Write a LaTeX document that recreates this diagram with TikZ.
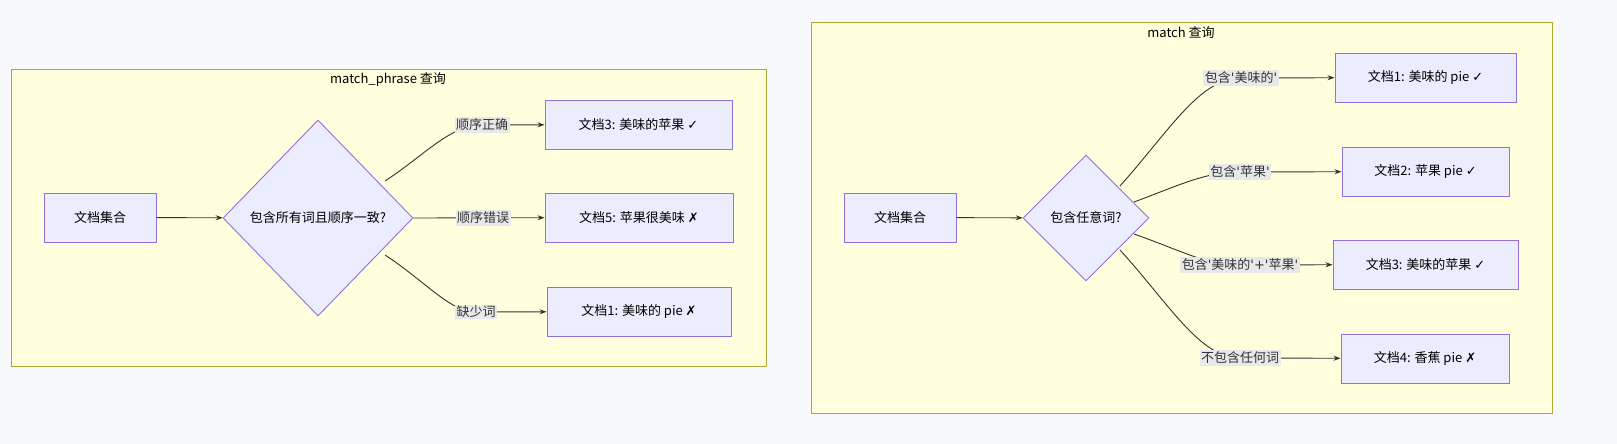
\documentclass[tikz,border=0pt]{standalone}
\usepackage{fontspec}
\setmainfont{Noto Sans CJK SC}
\newfontfamily\sym{DejaVu Sans}
\newcommand{\q}{{\sym\char"0027}}
\usetikzlibrary{shapes.geometric,arrows.meta}
\definecolor{bg}{HTML}{F8F9FB}
\definecolor{clf}{HTML}{FFFFDE}
\definecolor{cld}{HTML}{AAAA33}
\definecolor{ndf}{HTML}{ECECFF}
\definecolor{ndd}{HTML}{9370DB}
\definecolor{lbl}{HTML}{E8E8E8}
\definecolor{ed}{HTML}{333333}
\begin{document}
\begin{tikzpicture}[x=1pt,y=-1pt,
  font=\fontsize{13}{15}\selectfont,
  cl/.style={draw=cld,fill=clf,line width=0.9pt},
  box/.style={draw=ndd,fill=ndf,line width=0.9pt,minimum height=49pt,inner sep=0pt},
  dia/.style={draw=ndd,fill=ndf,line width=0.9pt,diamond,inner sep=0pt},
  lab/.style={fill=lbl,inner sep=1.5pt,text=ed},
  e/.style={draw=ed,line width=0.9pt,-{Stealth[length=7pt,width=5pt]}}]
\fill[bg] (0,0) rectangle (1617,444);
% left cluster
\draw[cl] (11,69) rectangle (766,366);
\node (t1) at (388,80) {match\_phrase 查询};
\node[box,minimum width=112pt] (a0) at (100,217.5) {文档集合};
\node[dia,minimum width=190pt,minimum height=196pt] (q1) at (318,218) {};
\node at (q1) {包含所有词且顺序一致?};
\node[box,minimum width=187pt] (a3) at (638.5,124.5) {文档3: 美味的苹果 {\sym ✓}};
\node[box,minimum width=188pt] (a5) at (639,217.5) {文档5: 苹果很美味 {\sym ✗}};
\node[box,minimum width=184pt] (a1) at (639,311.5) {文档1: 美味的 pie {\sym ✗}};
\coordinate (l1) at (482,125);
\coordinate (l2) at (483,218);
\coordinate (l3) at (476,312);
\draw[e] (a0) -- (q1);
\draw[e] (385,181) .. controls (425,155) and (450,125) .. (l1) -- (a3);
\draw[e] (q1.east) -- (a5);
\draw[e] (385,255) .. controls (425,281) and (450,312) .. (l3) -- (a1);
\node[lab] at (l1) {顺序正确};
\node[lab] at (l2) {顺序错误};
\node[lab] at (l3) {缺少词};
% right cluster
\draw[cl] (811,22) rectangle (1552,413);
\node (t2) at (1181,33) {match 查询};
\node[box,minimum width=112pt] (b0) at (900,217.5) {文档集合};
\node[dia,minimum width=126pt,minimum height=126pt] (q2) at (1086,218) {};
\node at (q2) {包含任意词?};
\node[box,minimum width=181pt] (b1) at (1425.5,77.5) {文档1: 美味的 pie {\sym ✓}};
\node[box,minimum width=167pt] (b2) at (1425.5,171.5) {文档2: 苹果 pie {\sym ✓}};
\node[box,minimum width=185pt] (b3) at (1425.5,264.5) {文档3: 美味的苹果 {\sym ✓}};
\node[box,minimum width=168pt] (b4) at (1425,358.5) {文档4: 香蕉 pie {\sym ✗}};
\coordinate (m1) at (1241,78);
\coordinate (m2) at (1240,172);
\coordinate (m3) at (1240,265);
\coordinate (m4) at (1240,358);
\draw[e] (b0) -- (q2);
\draw[e] (1120,186) .. controls (1170,130) and (1200,78) .. (m1) -- (b1);
\draw[e] (1134,202) .. controls (1180,185) and (1205,172) .. (m2) -- (b2);
\draw[e] (1134,234) .. controls (1180,250) and (1205,265) .. (m3) -- (b3);
\draw[e] (1120,250) .. controls (1170,305) and (1200,358) .. (m4) -- (b4);
\node[lab] at (m1) {包含\q 美味的\q};
\node[lab] at (m2) {包含\q 苹果\q};
\node[lab] at (m3) {包含\q 美味的\q{\sym +}\q 苹果\q};
\node[lab] at (m4) {不包含任何词};
\pgfresetboundingbox
\useasboundingbox (0,0) rectangle (1617,444);
\end{tikzpicture}
\end{document}
